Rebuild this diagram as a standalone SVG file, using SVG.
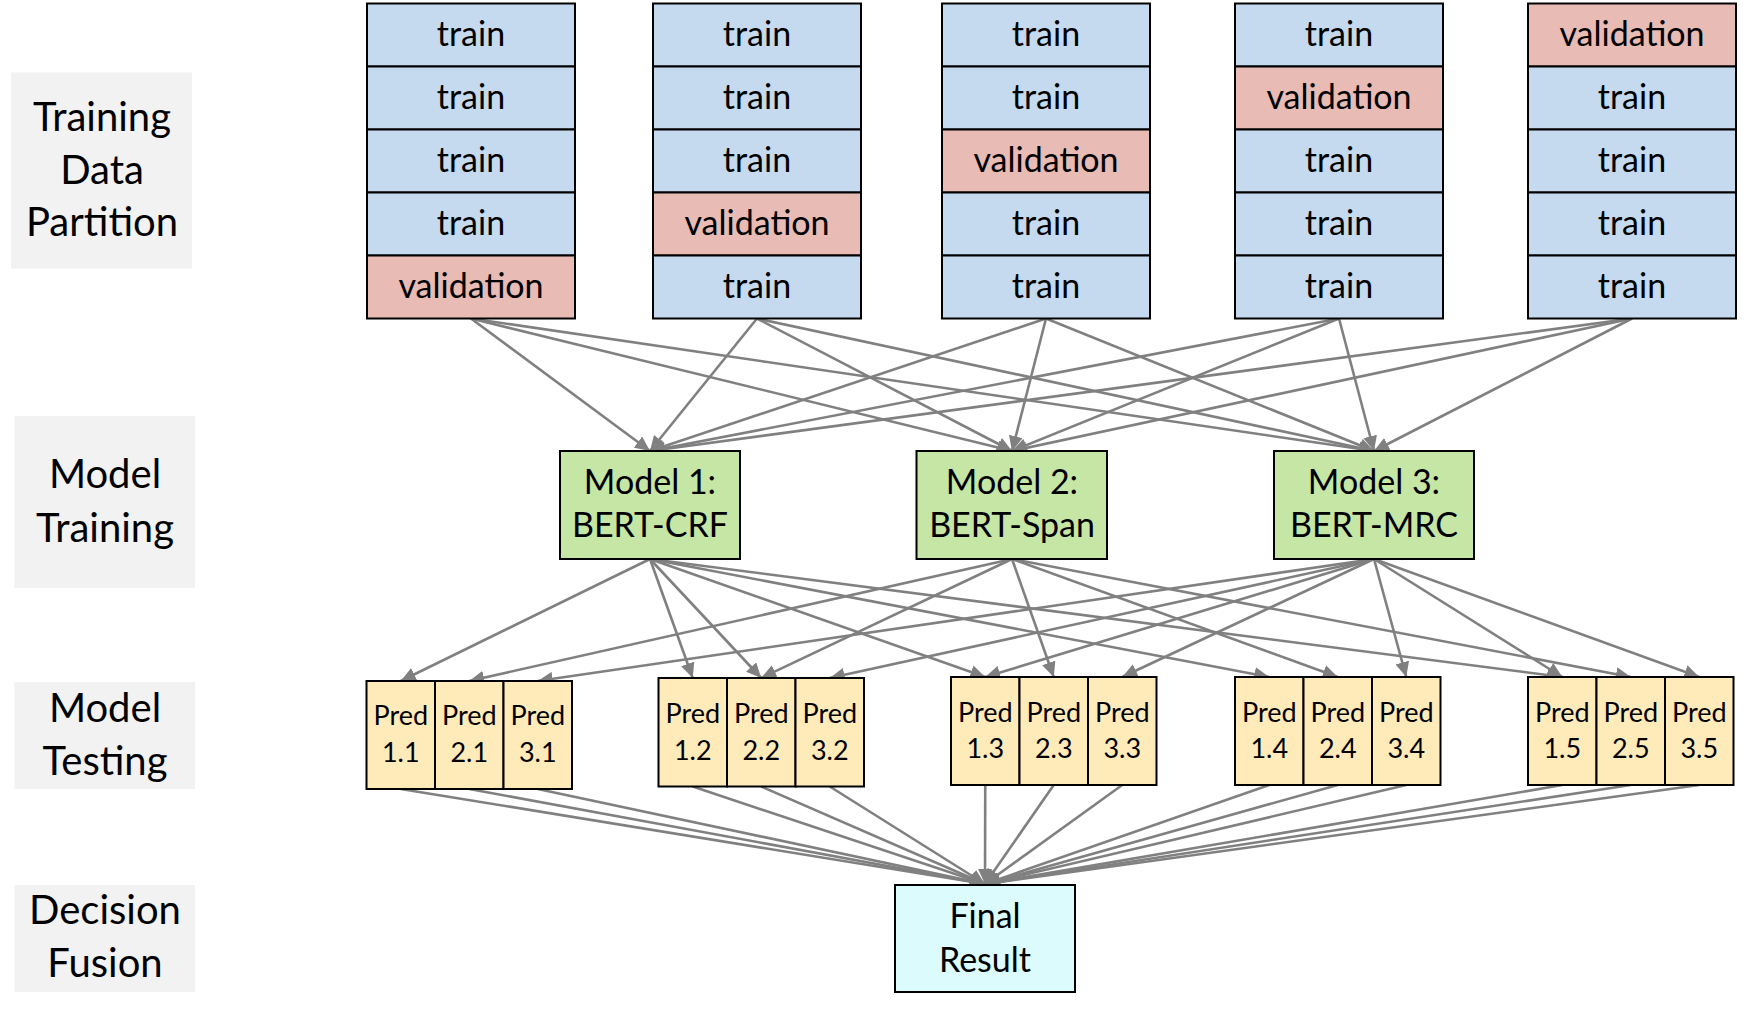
<svg xmlns="http://www.w3.org/2000/svg" width="1750" height="1015" viewBox="0 0 1750 1015">
<defs>
<marker id="ah" markerUnits="userSpaceOnUse" markerWidth="16" markerHeight="14" refX="15" refY="7" orient="auto">
<path d="M0,0 L15,7 L0,14 Z" fill="#808080"/>
</marker>
<style>
.lbl{fill:#F2F2F2}
.cell{stroke:#000;stroke-width:2}
.train{fill:#C5DAEF}
.val{fill:#E8BBB4}
.model{fill:#C6E6A5}
.pred{fill:#FFEBBA}
.final{fill:#DBFBFD}
.t{font-family:Lato,"Liberation Sans",sans-serif;fill:#000;text-anchor:middle}
.big{font-size:40px}
.ct{font-size:34px}
.mt{font-size:34px}
.pt{font-size:27px}
.c{stroke:#808080;stroke-width:2.6;fill:none;marker-end:url(#ah)}
</style>
</defs>
<rect width="1750" height="1015" fill="#fff"/>

<!-- stage labels -->
<g id="label-partition">
<rect class="lbl" x="11" y="72.5" width="181" height="196"/>
<text class="t big" x="102" y="131">Training</text>
<text class="t big" x="102" y="183.5">Data</text>
<text class="t big" x="102" y="236">Partition</text>
</g>
<g id="label-training">
<rect class="lbl" x="14.5" y="416" width="180.5" height="172"/>
<text class="t big" x="105" y="488">Model</text>
<text class="t big" x="105" y="541.5">Training</text>
</g>
<g id="label-testing">
<rect class="lbl" x="14.5" y="682" width="180.5" height="107"/>
<text class="t big" x="105" y="721.5">Model</text>
<text class="t big" x="105" y="775">Testing</text>
</g>
<g id="label-fusion">
<rect class="lbl" x="14.5" y="885" width="180.5" height="107"/>
<text class="t big" x="105" y="923.5">Decision</text>
<text class="t big" x="105" y="977">Fusion</text>
</g>

<!-- connectors -->
<g id="connectors">
<!-- folds to models -->
<line class="c" x1="471" y1="318.5" x2="650" y2="451"/>
<line class="c" x1="471" y1="318.5" x2="1012" y2="451"/>
<line class="c" x1="471" y1="318.5" x2="1374" y2="451"/>
<line class="c" x1="757" y1="318.5" x2="650" y2="451"/>
<line class="c" x1="757" y1="318.5" x2="1012" y2="451"/>
<line class="c" x1="757" y1="318.5" x2="1374" y2="451"/>
<line class="c" x1="1046" y1="318.5" x2="650" y2="451"/>
<line class="c" x1="1046" y1="318.5" x2="1012" y2="451"/>
<line class="c" x1="1046" y1="318.5" x2="1374" y2="451"/>
<line class="c" x1="1339" y1="318.5" x2="650" y2="451"/>
<line class="c" x1="1339" y1="318.5" x2="1012" y2="451"/>
<line class="c" x1="1339" y1="318.5" x2="1374" y2="451"/>
<line class="c" x1="1632" y1="318.5" x2="650" y2="451"/>
<line class="c" x1="1632" y1="318.5" x2="1012" y2="451"/>
<line class="c" x1="1632" y1="318.5" x2="1374" y2="451"/>
<!-- models to predictions -->
<line class="c" x1="650" y1="559" x2="400.75" y2="681"/>
<line class="c" x1="650" y1="559" x2="692.75" y2="678"/>
<line class="c" x1="650" y1="559" x2="761.25" y2="678"/>
<line class="c" x1="650" y1="559" x2="985.25" y2="677"/>
<line class="c" x1="650" y1="559" x2="1269.25" y2="677"/>
<line class="c" x1="650" y1="559" x2="1562.25" y2="677"/>
<line class="c" x1="1012" y1="559" x2="469.25" y2="681"/>
<line class="c" x1="1012" y1="559" x2="761.25" y2="678"/>
<line class="c" x1="1012" y1="559" x2="1053.75" y2="677"/>
<line class="c" x1="1012" y1="559" x2="1337.75" y2="677"/>
<line class="c" x1="1012" y1="559" x2="1630.75" y2="677"/>
<line class="c" x1="1374" y1="559" x2="537.75" y2="681"/>
<line class="c" x1="1374" y1="559" x2="829.75" y2="678"/>
<line class="c" x1="1374" y1="559" x2="985.25" y2="677"/>
<line class="c" x1="1374" y1="559" x2="1122.25" y2="677"/>
<line class="c" x1="1374" y1="559" x2="1406.25" y2="677"/>
<line class="c" x1="1374" y1="559" x2="1562.25" y2="677"/>
<line class="c" x1="1374" y1="559" x2="1699.25" y2="677"/>
<!-- predictions to final -->
<line class="c" x1="400.75" y1="789" x2="985" y2="884"/>
<line class="c" x1="469.25" y1="789" x2="985" y2="884"/>
<line class="c" x1="537.75" y1="789" x2="985" y2="884"/>
<line class="c" x1="692.75" y1="786.5" x2="985" y2="884"/>
<line class="c" x1="761.25" y1="786.5" x2="985" y2="884"/>
<line class="c" x1="829.75" y1="786.5" x2="985" y2="884"/>
<line class="c" x1="985.25" y1="785" x2="985" y2="884"/>
<line class="c" x1="1053.75" y1="785" x2="985" y2="884"/>
<line class="c" x1="1122.25" y1="785" x2="985" y2="884"/>
<line class="c" x1="1269.25" y1="785" x2="985" y2="884"/>
<line class="c" x1="1337.75" y1="785" x2="985" y2="884"/>
<line class="c" x1="1406.25" y1="785" x2="985" y2="884"/>
<line class="c" x1="1562.25" y1="785" x2="985" y2="884"/>
<line class="c" x1="1630.75" y1="785" x2="985" y2="884"/>
<line class="c" x1="1699.25" y1="785" x2="985" y2="884"/>
</g>

<!-- data folds -->
<g id="fold1">
<rect class="cell train" x="367" y="3.5" width="208" height="63"/><text class="t ct" x="471" y="45.5">train</text>
<rect class="cell train" x="367" y="66.5" width="208" height="63"/><text class="t ct" x="471" y="108.5">train</text>
<rect class="cell train" x="367" y="129.5" width="208" height="63"/><text class="t ct" x="471" y="171.5">train</text>
<rect class="cell train" x="367" y="192.5" width="208" height="63"/><text class="t ct" x="471" y="234.5">train</text>
<rect class="cell val" x="367" y="255.5" width="208" height="63"/><text class="t ct" x="471" y="297.5">validation</text>
</g>
<g id="fold2">
<rect class="cell train" x="653" y="3.5" width="208" height="63"/><text class="t ct" x="757" y="45.5">train</text>
<rect class="cell train" x="653" y="66.5" width="208" height="63"/><text class="t ct" x="757" y="108.5">train</text>
<rect class="cell train" x="653" y="129.5" width="208" height="63"/><text class="t ct" x="757" y="171.5">train</text>
<rect class="cell val" x="653" y="192.5" width="208" height="63"/><text class="t ct" x="757" y="234.5">validation</text>
<rect class="cell train" x="653" y="255.5" width="208" height="63"/><text class="t ct" x="757" y="297.5">train</text>
</g>
<g id="fold3">
<rect class="cell train" x="942" y="3.5" width="208" height="63"/><text class="t ct" x="1046" y="45.5">train</text>
<rect class="cell train" x="942" y="66.5" width="208" height="63"/><text class="t ct" x="1046" y="108.5">train</text>
<rect class="cell val" x="942" y="129.5" width="208" height="63"/><text class="t ct" x="1046" y="171.5">validation</text>
<rect class="cell train" x="942" y="192.5" width="208" height="63"/><text class="t ct" x="1046" y="234.5">train</text>
<rect class="cell train" x="942" y="255.5" width="208" height="63"/><text class="t ct" x="1046" y="297.5">train</text>
</g>
<g id="fold4">
<rect class="cell train" x="1235" y="3.5" width="208" height="63"/><text class="t ct" x="1339" y="45.5">train</text>
<rect class="cell val" x="1235" y="66.5" width="208" height="63"/><text class="t ct" x="1339" y="108.5">validation</text>
<rect class="cell train" x="1235" y="129.5" width="208" height="63"/><text class="t ct" x="1339" y="171.5">train</text>
<rect class="cell train" x="1235" y="192.5" width="208" height="63"/><text class="t ct" x="1339" y="234.5">train</text>
<rect class="cell train" x="1235" y="255.5" width="208" height="63"/><text class="t ct" x="1339" y="297.5">train</text>
</g>
<g id="fold5">
<rect class="cell val" x="1528" y="3.5" width="208" height="63"/><text class="t ct" x="1632" y="45.5">validation</text>
<rect class="cell train" x="1528" y="66.5" width="208" height="63"/><text class="t ct" x="1632" y="108.5">train</text>
<rect class="cell train" x="1528" y="129.5" width="208" height="63"/><text class="t ct" x="1632" y="171.5">train</text>
<rect class="cell train" x="1528" y="192.5" width="208" height="63"/><text class="t ct" x="1632" y="234.5">train</text>
<rect class="cell train" x="1528" y="255.5" width="208" height="63"/><text class="t ct" x="1632" y="297.5">train</text>
</g>

<!-- models -->
<g id="model1">
<rect class="cell model" x="560" y="451" width="180" height="108"/>
<text class="t mt" x="650" y="494">Model 1:</text>
<text class="t mt" x="650" y="537">BERT-CRF</text>
</g>
<g id="model2">
<rect class="cell model" x="916.5" y="451" width="190.5" height="108"/>
<text class="t mt" x="1012" y="494">Model 2:</text>
<text class="t mt" x="1012" y="537">BERT-Span</text>
</g>
<g id="model3">
<rect class="cell model" x="1274" y="451" width="200" height="108"/>
<text class="t mt" x="1374" y="494">Model 3:</text>
<text class="t mt" x="1374" y="537">BERT-MRC</text>
</g>

<!-- predictions -->
<g id="pred-1-1"><rect class="cell pred" x="366.5" y="681" width="68.5" height="108"/><text class="t pt" x="400.75" y="725">Pred</text><text class="t pt" x="400.75" y="762">1.1</text></g>
<g id="pred-2-1"><rect class="cell pred" x="435" y="681" width="68.5" height="108"/><text class="t pt" x="469.25" y="725">Pred</text><text class="t pt" x="469.25" y="762">2.1</text></g>
<g id="pred-3-1"><rect class="cell pred" x="503.5" y="681" width="68.5" height="108"/><text class="t pt" x="537.75" y="725">Pred</text><text class="t pt" x="537.75" y="762">3.1</text></g>

<g id="pred-1-2"><rect class="cell pred" x="658.5" y="678" width="68.5" height="108.5"/><text class="t pt" x="692.75" y="723">Pred</text><text class="t pt" x="692.75" y="760">1.2</text></g>
<g id="pred-2-2"><rect class="cell pred" x="727" y="678" width="68.5" height="108.5"/><text class="t pt" x="761.25" y="723">Pred</text><text class="t pt" x="761.25" y="760">2.2</text></g>
<g id="pred-3-2"><rect class="cell pred" x="795.5" y="678" width="68.5" height="108.5"/><text class="t pt" x="829.75" y="723">Pred</text><text class="t pt" x="829.75" y="760">3.2</text></g>

<g id="pred-1-3"><rect class="cell pred" x="951" y="677" width="68.5" height="108"/><text class="t pt" x="985.25" y="721.5">Pred</text><text class="t pt" x="985.25" y="757.5">1.3</text></g>
<g id="pred-2-3"><rect class="cell pred" x="1019.5" y="677" width="68.5" height="108"/><text class="t pt" x="1053.75" y="721.5">Pred</text><text class="t pt" x="1053.75" y="757.5">2.3</text></g>
<g id="pred-3-3"><rect class="cell pred" x="1088" y="677" width="68.5" height="108"/><text class="t pt" x="1122.25" y="721.5">Pred</text><text class="t pt" x="1122.25" y="757.5">3.3</text></g>

<g id="pred-1-4"><rect class="cell pred" x="1235" y="677" width="68.5" height="108"/><text class="t pt" x="1269.25" y="721.5">Pred</text><text class="t pt" x="1269.25" y="757.5">1.4</text></g>
<g id="pred-2-4"><rect class="cell pred" x="1303.5" y="677" width="68.5" height="108"/><text class="t pt" x="1337.75" y="721.5">Pred</text><text class="t pt" x="1337.75" y="757.5">2.4</text></g>
<g id="pred-3-4"><rect class="cell pred" x="1372" y="677" width="68.5" height="108"/><text class="t pt" x="1406.25" y="721.5">Pred</text><text class="t pt" x="1406.25" y="757.5">3.4</text></g>

<g id="pred-1-5"><rect class="cell pred" x="1528" y="677" width="68.5" height="108"/><text class="t pt" x="1562.25" y="721.5">Pred</text><text class="t pt" x="1562.25" y="757.5">1.5</text></g>
<g id="pred-2-5"><rect class="cell pred" x="1596.5" y="677" width="68.5" height="108"/><text class="t pt" x="1630.75" y="721.5">Pred</text><text class="t pt" x="1630.75" y="757.5">2.5</text></g>
<g id="pred-3-5"><rect class="cell pred" x="1665" y="677" width="68.5" height="108"/><text class="t pt" x="1699.25" y="721.5">Pred</text><text class="t pt" x="1699.25" y="757.5">3.5</text></g>

<!-- final -->
<g id="final">
<rect class="cell final" x="895" y="885" width="180" height="107"/>
<text class="t mt" x="985" y="928">Final</text>
<text class="t mt" x="985" y="972">Result</text>
</g>
</svg>
